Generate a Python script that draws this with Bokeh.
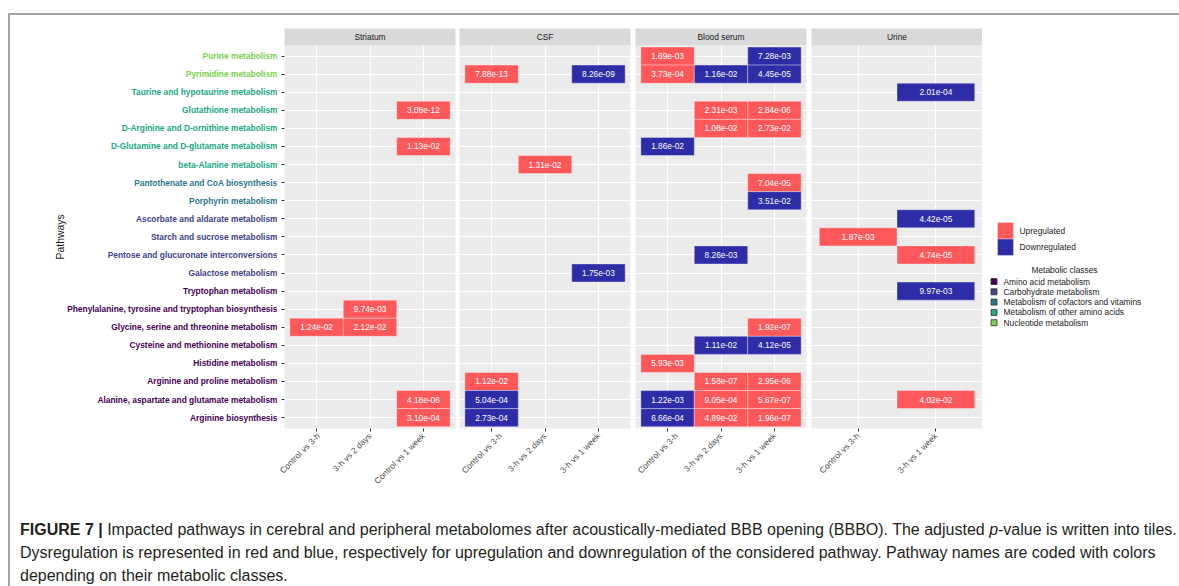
import math
from bokeh.plotting import figure
from bokeh.models import (Range1d, FixedTicker, ColumnDataSource, Div, CustomLabelingPolicy)
from bokeh.layouts import row, column
from bokeh.embed import file_html
from bokeh.resources import INLINE
from bokeh.core.properties import value

FONT = "Liberation Sans"

# ---------------- data ----------------
pathways = [
    "Purine metabolism",
    "Pyrimidine metabolism",
    "Taurine and hypotaurine metabolism",
    "Glutathione metabolism",
    "D-Arginine and D-ornithine metabolism",
    "D-Glutamine and D-glutamate metabolism",
    "beta-Alanine metabolism",
    "Pantothenate and CoA biosynthesis",
    "Porphyrin metabolism",
    "Ascorbate and aldarate metabolism",
    "Starch and sucrose metabolism",
    "Pentose and glucuronate interconversions",
    "Galactose metabolism",
    "Tryptophan metabolism",
    "Phenylalanine, tyrosine and tryptophan biosynthesis",
    "Glycine, serine and threonine metabolism",
    "Cysteine and methionine metabolism",
    "Histidine metabolism",
    "Arginine and proline metabolism",
    "Alanine, aspartate and glutamate metabolism",
    "Arginine biosynthesis",
]
pathway_class = [
    "Nucleotide metabolism", "Nucleotide metabolism",
    "Metabolism of other amino acids", "Metabolism of other amino acids",
    "Metabolism of other amino acids", "Metabolism of other amino acids",
    "Metabolism of other amino acids",
    "Metabolism of cofactors and vitamins", "Metabolism of cofactors and vitamins",
    "Carbohydrate metabolism", "Carbohydrate metabolism",
    "Carbohydrate metabolism", "Carbohydrate metabolism",
    "Amino acid metabolism", "Amino acid metabolism", "Amino acid metabolism",
    "Amino acid metabolism", "Amino acid metabolism", "Amino acid metabolism",
    "Amino acid metabolism", "Amino acid metabolism",
]
class_names = ["Amino acid metabolism", "Carbohydrate metabolism",
               "Metabolism of cofactors and vitamins", "Metabolism of other amino acids",
               "Nucleotide metabolism"]
class_colors = ["#440154", "#414487", "#2A788E", "#22A884", "#7AD151"]

direction_names = ["Upregulated", "Downregulated"]
direction_colors = ["#FE585A", "#2F2CA8"]

striatum_comparisons = ["Control vs 3-h", "3-h vs 2 days", "Control vs 1 week"]
striatum_pathway = ["Glutathione metabolism", "D-Glutamine and D-glutamate metabolism",
                    "Phenylalanine, tyrosine and tryptophan biosynthesis",
                    "Glycine, serine and threonine metabolism", "Glycine, serine and threonine metabolism",
                    "Alanine, aspartate and glutamate metabolism", "Arginine biosynthesis"]
striatum_comparison = ["Control vs 1 week", "Control vs 1 week", "3-h vs 2 days",
                       "Control vs 3-h", "3-h vs 2 days", "Control vs 1 week", "Control vs 1 week"]
striatum_padj = [3.08e-12, 1.13e-02, 9.74e-03, 1.24e-02, 2.12e-02, 4.18e-06, 3.10e-04]
striatum_direction = ["Upregulated"] * 7

csf_comparisons = ["Control vs 3-h", "3-h vs 2 days", "3-h vs 1 week"]
csf_pathway = ["Pyrimidine metabolism", "Pyrimidine metabolism", "beta-Alanine metabolism",
               "Galactose metabolism", "Arginine and proline metabolism",
               "Alanine, aspartate and glutamate metabolism", "Arginine biosynthesis"]
csf_comparison = ["Control vs 3-h", "3-h vs 1 week", "3-h vs 2 days", "3-h vs 1 week",
                  "Control vs 3-h", "Control vs 3-h", "Control vs 3-h"]
csf_padj = [7.88e-13, 8.26e-09, 1.31e-02, 1.75e-03, 1.12e-02, 5.04e-04, 2.73e-04]
csf_direction = ["Upregulated", "Downregulated", "Upregulated", "Downregulated",
                 "Upregulated", "Downregulated", "Downregulated"]

serum_comparisons = ["Control vs 3-h", "3-h vs 2 days", "3-h vs 1 week"]
serum_pathway = [
    "Purine metabolism", "Purine metabolism",
    "Pyrimidine metabolism", "Pyrimidine metabolism", "Pyrimidine metabolism",
    "Glutathione metabolism", "Glutathione metabolism",
    "D-Arginine and D-ornithine metabolism", "D-Arginine and D-ornithine metabolism",
    "D-Glutamine and D-glutamate metabolism",
    "Pantothenate and CoA biosynthesis", "Porphyrin metabolism",
    "Pentose and glucuronate interconversions",
    "Glycine, serine and threonine metabolism",
    "Cysteine and methionine metabolism", "Cysteine and methionine metabolism",
    "Histidine metabolism",
    "Arginine and proline metabolism", "Arginine and proline metabolism",
    "Alanine, aspartate and glutamate metabolism", "Alanine, aspartate and glutamate metabolism",
    "Alanine, aspartate and glutamate metabolism",
    "Arginine biosynthesis", "Arginine biosynthesis", "Arginine biosynthesis",
]
serum_comparison = [
    "Control vs 3-h", "3-h vs 1 week",
    "Control vs 3-h", "3-h vs 2 days", "3-h vs 1 week",
    "3-h vs 2 days", "3-h vs 1 week",
    "3-h vs 2 days", "3-h vs 1 week",
    "Control vs 3-h",
    "3-h vs 1 week", "3-h vs 1 week",
    "3-h vs 2 days",
    "3-h vs 1 week",
    "3-h vs 2 days", "3-h vs 1 week",
    "Control vs 3-h",
    "3-h vs 2 days", "3-h vs 1 week",
    "Control vs 3-h", "3-h vs 2 days", "3-h vs 1 week",
    "Control vs 3-h", "3-h vs 2 days", "3-h vs 1 week",
]
serum_padj = [1.69e-03, 7.28e-03, 3.73e-04, 1.16e-02, 4.45e-05, 2.31e-03, 2.84e-06,
              1.08e-02, 2.73e-02, 1.86e-02, 7.04e-05, 3.51e-02, 8.26e-03, 1.92e-07,
              1.11e-02, 4.12e-05, 5.93e-03, 1.58e-07, 2.95e-06, 1.22e-03, 9.05e-04,
              5.67e-07, 6.66e-04, 4.89e-02, 1.96e-07]
serum_direction = [
    "Upregulated", "Downregulated",
    "Upregulated", "Downregulated", "Downregulated",
    "Upregulated", "Upregulated",
    "Upregulated", "Upregulated",
    "Downregulated",
    "Upregulated", "Downregulated",
    "Downregulated",
    "Upregulated",
    "Downregulated", "Downregulated",
    "Upregulated",
    "Upregulated", "Upregulated",
    "Downregulated", "Upregulated", "Upregulated",
    "Downregulated", "Upregulated", "Upregulated",
]

urine_comparisons = ["Control vs 3-h", "3-h vs 1 week"]
urine_pathway = ["Taurine and hypotaurine metabolism", "Ascorbate and aldarate metabolism",
                 "Starch and sucrose metabolism", "Pentose and glucuronate interconversions",
                 "Tryptophan metabolism", "Alanine, aspartate and glutamate metabolism"]
urine_comparison = ["3-h vs 1 week", "3-h vs 1 week", "Control vs 3-h", "3-h vs 1 week",
                    "3-h vs 1 week", "3-h vs 1 week"]
urine_padj = [2.01e-04, 4.42e-05, 1.87e-03, 4.74e-05, 9.97e-03, 4.02e-02]
urine_direction = ["Downregulated", "Downregulated", "Upregulated", "Upregulated",
                   "Downregulated", "Upregulated"]

# ---------------- layout constants ----------------
N = len(pathways)
EXP = 0.6
PX_PER_ROW = 384.0 / (N + 2 * EXP)
STRIP = 16.0 / PX_PER_ROW
Y_LO, Y_HI = 1 - EXP, N + EXP
FRAME_H = 400
TOP_B, BOT_B = 13, 85
row_of = {pw: N - i for i, pw in enumerate(pathways)}
dir_color = dict(zip(direction_names, direction_colors))
cls_color = dict(zip(class_names, class_colors))


def make_panel(title, comps, pws, cps, pvals, dirs, show_y, border_right):
    n = len(comps)
    p = figure(x_range=Range1d(1 - EXP, n + EXP), y_range=Range1d(Y_LO, Y_HI + STRIP),
               frame_width=171, frame_height=FRAME_H, output_backend="svg",
               toolbar_location=None, min_border=0,
               min_border_left=3 if show_y else 0, min_border_right=border_right,
               min_border_top=TOP_B, min_border_bottom=BOT_B)
    p.background_fill_color = "#EBEBEB"
    p.border_fill_color = "white"
    p.outline_line_color = None
    xt = FixedTicker(ticks=list(range(1, n + 1)))
    yt = FixedTicker(ticks=list(range(1, N + 1)))
    p.xaxis.ticker = xt
    p.xgrid.ticker = xt
    p.yaxis.ticker = yt
    p.ygrid.ticker = yt
    p.grid.grid_line_color = "white"
    p.grid.grid_line_width = 1
    p.xaxis.major_label_overrides = {i + 1: c for i, c in enumerate(comps)}
    p.xaxis.major_label_orientation = math.pi / 4
    p.xaxis.major_label_text_font_size = "8.5px"
    p.xaxis.major_label_text_font = FONT
    p.xaxis.major_label_text_color = "#4D4D4D"
    p.xaxis.major_label_standoff = 3
    p.axis.axis_line_color = None
    p.axis.major_tick_line_color = "#333333"
    p.axis.major_tick_out = 3
    p.axis.major_tick_in = 0
    p.axis.minor_tick_line_color = None
    if show_y:
        # tick marks only; the coloured pathway names are drawn in the label panel
        p.yaxis.major_label_policy = CustomLabelingPolicy(code="return []")
        p.yaxis.major_label_text_font_size = "1px"
        p.yaxis.major_label_standoff = 0
    else:
        p.yaxis.visible = False

    src = ColumnDataSource(dict(
        x=[comps.index(c) + 1 for c in cps],
        y=[row_of[pw] for pw in pws],
        label=["%.2e" % v for v in pvals],
        color=[dir_color[d] for d in dirs],
    ))
    p.rect(x="x", y="y", width=1, height=1, fill_color="color", line_color="white",
           line_alpha=0.35, line_width=1, source=src)
    p.text(x="x", y="y", text="label", text_color="white", text_align="center",
           text_baseline="middle", text_font_size="8.3px", text_font=value(FONT), source=src)
    # facet strip
    p.quad(left=[1 - EXP], right=[n + EXP], bottom=[Y_HI], top=[Y_HI + STRIP],
           fill_color="#D9D9D9", line_color=None)
    p.text(x=[(n + 1) / 2], y=[Y_HI + STRIP / 2], text=[title], text_color="#1A1A1A",
           text_align="center", text_baseline="middle", text_font_size="8.4px",
           text_font=value(FONT))
    return p


# y labels figure
LAB_W = 267
lab = figure(x_range=Range1d(0, LAB_W), y_range=Range1d(Y_LO, Y_HI + STRIP),
             frame_width=LAB_W, frame_height=FRAME_H, output_backend="svg",
             toolbar_location=None, min_border=0, min_border_top=TOP_B, min_border_bottom=BOT_B)
lab.axis.visible = False
lab.grid.visible = False
lab.outline_line_color = None
lab_src = ColumnDataSource(dict(
    x=[LAB_W] * N, y=[row_of[pw] for pw in pathways], text=pathways,
    color=[cls_color[c] for c in pathway_class]))
lab.text(x="x", y="y", text="text", text_color="color", text_align="right",
         text_baseline="middle", text_font_size="8.4px", text_font_style="bold",
         text_font=value(FONT), source=lab_src)
lab.text(x=[50], y=[(Y_LO + Y_HI) / 2], text=["Pathways"], angle=math.pi / 2,
         text_align="center", text_baseline="middle", text_font_size="10.4px",
         text_color="#1A1A1A", text_font=value(FONT))

p1 = make_panel("Striatum", striatum_comparisons, striatum_pathway, striatum_comparison,
                striatum_padj, striatum_direction, True, 4)
p2 = make_panel("CSF", csf_comparisons, csf_pathway, csf_comparison,
                csf_padj, csf_direction, False, 5)
p3 = make_panel("Blood serum", serum_comparisons, serum_pathway, serum_comparison,
                serum_padj, serum_direction, False, 5)
p4 = make_panel("Urine", urine_comparisons, urine_pathway, urine_comparison,
                urine_padj, urine_direction, False, 0)

# legend panel (pixel coordinates: x from left of panel, y from bottom of frame)
LEG_W = 198
leg = figure(x_range=Range1d(0, LEG_W), y_range=Range1d(0, FRAME_H),
             frame_width=LEG_W, frame_height=FRAME_H, output_backend="svg",
             toolbar_location=None, min_border=0, min_border_top=TOP_B, min_border_bottom=BOT_B)
leg.axis.visible = False
leg.grid.visible = False
leg.outline_line_color = None

key_top = [206, 189.5]
leg.quad(left=[15, 15], right=[31, 31], top=key_top, bottom=[t - 16.5 for t in key_top],
         fill_color=direction_colors, line_color="white", line_alpha=0.35)
leg.text(x=[37, 37], y=[t - 8.25 for t in key_top], text=direction_names,
         text_align="left", text_baseline="middle", text_font_size="8.4px",
         text_font=value(FONT), text_color="#1A1A1A")

leg.text(x=[82], y=[159], text=["Metabolic classes"], text_align="center",
         text_baseline="middle", text_font_size="8.4px", text_font=value(FONT),
         text_color="#1A1A1A")
cls_y = [147 - 10.3 * i for i in range(len(class_names))]
leg.quad(left=[8.5] * 5, right=[14.5] * 5, top=[y + 3 for y in cls_y],
         bottom=[y - 3 for y in cls_y], fill_color=class_colors,
         line_color="#333333", line_width=0.8)
leg.text(x=[21] * 5, y=cls_y, text=class_names, text_align="left",
         text_baseline="middle", text_font_size="8.4px", text_font=value(FONT),
         text_color="#1A1A1A")

caption_html = (
    '<div style="font-family:\'Liberation Sans\',Arial,sans-serif;font-size:16px;'
    'line-height:23px;color:#231F20;white-space:nowrap;padding-left:5px;">'
    '<b>FIGURE 7 |</b> Impacted pathways in cerebral and peripheral metabolomes after '
    'acoustically-mediated BBB opening (BBBO). The adjusted <i>p</i>-value is written into tiles.<br>'
    'Dysregulation is represented in red and blue, respectively for upregulation and downregulation '
    'of the considered pathway. Pathway names are coded with colors<br>'
    'depending on their metabolic classes.</div>'
)
ROW_W = LAB_W + 6 + 171 * 4 + 4 + 5 + 5 + LEG_W
caption = Div(text=caption_html, width=ROW_W, height=69, styles={"overflow": "visible"})

layout = column(
    row(lab, p1, p2, p3, p4, leg),
    caption,
    margin=(13, 0, 0, 8),
    styles={"border-top": "2px solid #A3A3A3", "border-left": "2px solid #A3A3A3"},
)

open("out.html", "w").write(file_html(layout, INLINE, title="Figure 7"))
